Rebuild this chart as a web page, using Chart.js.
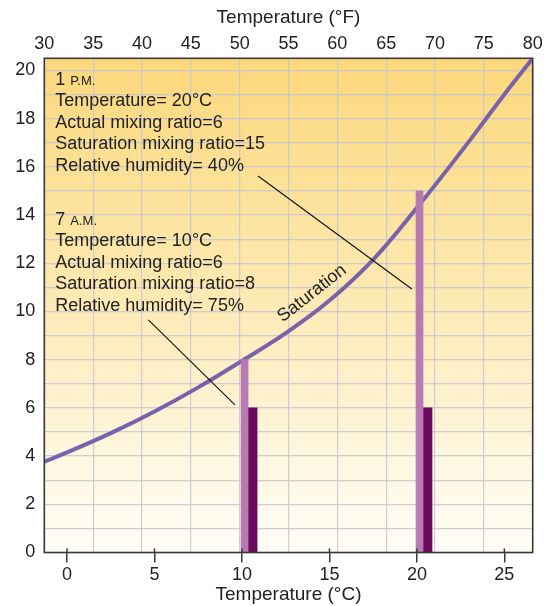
<!DOCTYPE html>
<html>
<head>
<meta charset="utf-8">
<script src="https://cdn.jsdelivr.net/npm/chart.js@4.4.0/dist/chart.umd.min.js"></script>
<style>
  html, body { margin: 0; padding: 0; background: #fff; }
  #wrap { width: 556px; height: 606px; }
</style>
</head>
<body>
<div id="wrap"><canvas id="chart" width="556" height="606"></canvas></div>
<script>
// saturation mixing ratio curve (°C -> g/kg)
const satTemps  = [-1.3, 0, 2.5, 5, 7.5, 10, 12.5, 15, 17.5, 20, 22.5, 25, 26.62];
const satValues = [3.77, 4.15, 4.95, 5.85, 6.85, 7.95, 9.1, 10.45, 12.15, 14.3, 16.6, 19.0, 20.5];

// the two observations (7 A.M. and 1 P.M.)
const obsTemps     = [10, 20];
const satMixing    = [8, 15];
const actualMixing = [6, 6];

// tick labels
const celsiusTicks    = [0, 5, 10, 15, 20, 25];
const fahrenheitTicks = [30, 35, 40, 45, 50, 55, 60, 65, 70, 75, 80];
const mixingTicks     = [0, 2, 4, 6, 8, 10, 12, 14, 16, 18, 20];

const FONT = '"Liberation Sans", Arial, Helvetica, sans-serif';
const INK = '#222';
const GRID = 'rgba(196, 198, 212, 0.85)';
const FRAME = '#3a3a3a';

const X_MIN = -1.3, X_MAX = 26.62;
const BAR_SHIFT = 0.35; // bars sit just right of their temperature tick

const paperPlugin = {
    id: 'paper',
    beforeDraw(chart) {
        const { ctx, chartArea: a } = chart;
        const g = ctx.createLinearGradient(0, a.top, 0, a.bottom);
        g.addColorStop(0, '#FCD87C');
        g.addColorStop(0.45, '#FDE8AE');
        g.addColorStop(0.8, '#FEF6DE');
        g.addColorStop(1, '#FFFDF7');
        ctx.save();
        ctx.fillStyle = g;
        ctx.fillRect(a.left, a.top, a.width, a.height);
        ctx.restore();
    },
    afterDraw(chart) {
        const { ctx, chartArea: a } = chart;
        const xs = chart.scales.x, ys = chart.scales.y;
        ctx.save();

        // frame
        ctx.strokeStyle = FRAME;
        ctx.lineWidth = 1.6;
        ctx.strokeRect(a.left, a.top, a.width, a.height);

        // bottom ticks poke a little into the plot
        ctx.lineWidth = 1.5;
        celsiusTicks.forEach(v => {
            const px = xs.getPixelForValue(v);
            ctx.beginPath();
            ctx.moveTo(px, a.bottom - 4);
            ctx.lineTo(px, a.bottom);
            ctx.stroke();
        });

        // leader lines (data units)
        ctx.strokeStyle = '#111';
        ctx.lineWidth = 1.1;
        const leaders = [
            [[10.92, 15.62], [19.71, 10.93]],
            [[4.65, 9.65], [9.6, 6.12]]
        ];
        leaders.forEach(l => {
            ctx.beginPath();
            ctx.moveTo(xs.getPixelForValue(l[0][0]), ys.getPixelForValue(l[0][1]));
            ctx.lineTo(xs.getPixelForValue(l[1][0]), ys.getPixelForValue(l[1][1]));
            ctx.stroke();
        });

        // text blocks
        ctx.fillStyle = INK;
        ctx.textBaseline = 'alphabetic';
        ctx.textAlign = 'left';
        const tx = a.left + 11;
        const step = 21.4;
        const blocks = [
            { top: 85, num: '1', suf: 'P.M.', temp: obsTemps[1], sat: satMixing[1], act: actualMixing[1] },
            { top: 225, num: '7', suf: 'A.M.', temp: obsTemps[0], sat: satMixing[0], act: actualMixing[0] }
        ];
        blocks.forEach(b => {
            ctx.font = '18px ' + FONT;
            ctx.fillText(b.num + ' ', tx, b.top);
            const w = ctx.measureText(b.num + ' ').width;
            ctx.font = '13px ' + FONT;
            ctx.fillText(b.suf, tx + w, b.top);
            ctx.font = '18px ' + FONT;
            const rh = Math.round(b.act / b.sat * 100);
            const lines = [
                'Temperature= ' + b.temp + '\u00B0C',
                'Actual mixing ratio=' + b.act,
                'Saturation mixing ratio=' + b.sat,
                'Relative humidity= ' + rh + '%'
            ];
            lines.forEach((t, i) => ctx.fillText(t, tx, b.top + step * (i + 1)));
        });

        // curve label
        ctx.translate(xs.getPixelForValue(14.0), ys.getPixelForValue(10.75));
        ctx.rotate(-38 * Math.PI / 180);
        ctx.textAlign = 'center';
        ctx.textBaseline = 'middle';
        ctx.font = '18px ' + FONT;
        ctx.fillText('Saturation', 0, 0);
        ctx.restore();
    }
};

const tickFont = { size: 18, family: FONT };
const titleFont = { size: 19, family: FONT };

const ctx = document.getElementById('chart').getContext('2d');
new Chart(ctx, {
    type: 'bar',
    data: {
        datasets: [
            {
                type: 'line',
                label: 'Saturation',
                data: satTemps.map((t, i) => ({ x: t, y: satValues[i] })),
                xAxisID: 'x',
                borderColor: '#7A62AA',
                borderWidth: 4,
                pointRadius: 0,
                tension: 0.4,
                order: 2
            },
            {
                label: 'Saturation mixing ratio',
                data: obsTemps.map((t, i) => ({ x: t, y: satMixing[i] })),
                xAxisID: 'xb',
                backgroundColor: '#B77AB1',
                barThickness: 7,
                order: 1
            },
            {
                label: 'Actual mixing ratio',
                data: obsTemps.map((t, i) => ({ x: t, y: actualMixing[i] })),
                xAxisID: 'xb',
                backgroundColor: '#6B0A5C',
                barThickness: 9,
                order: 1
            }
        ]
    },
    options: {
        responsive: false,
        animation: false,
        layout: { padding: { top: 0, right: 23.3, bottom: 0, left: 0 } },
        plugins: {
            legend: { display: false },
            tooltip: { enabled: false }
        },
        scales: {
            x: {
                type: 'linear',
                position: 'bottom',
                offset: false,
                min: X_MIN,
                max: X_MAX,
                afterBuildTicks: s => { s.ticks = celsiusTicks.map(v => ({ value: v })); },
                afterFit: s => { s.height = 53.5; },
                grid: { offset: false, drawOnChartArea: false, drawTicks: true, tickLength: 10, color: FRAME, lineWidth: 1.5 },
                border: { display: false },
                ticks: { color: INK, font: tickFont, padding: 2, maxRotation: 0 },
                title: { display: true, text: 'Temperature (\u00B0C)', color: INK, font: titleFont, padding: { top: 0, bottom: 0 } }
            },
            xb: {
                type: 'linear',
                display: false,
                offset: false,
                grid: { offset: false },
                min: X_MIN - BAR_SHIFT,
                max: X_MAX - BAR_SHIFT
            },
            x2: {
                type: 'linear',
                position: 'top',
                offset: false,
                min: 30,
                max: 80,
                afterBuildTicks: s => { s.ticks = fahrenheitTicks.map(v => ({ value: v })); },
                afterFit: s => { s.height = 58.3; },
                grid: { offset: false, drawTicks: false, color: GRID, lineWidth: 1.2 },
                border: { display: false },
                ticks: { color: INK, font: tickFont, padding: 3.5, maxRotation: 0 },
                title: { display: true, text: 'Temperature (\u00B0F)', color: INK, font: titleFont, padding: { top: 6.5, bottom: 0 } }
            },
            y: {
                type: 'linear',
                min: 0,
                max: 20.5,
                afterFit: s => { s.width = 44.3; },
                grid: { drawTicks: false, color: GRID, lineWidth: 1.2 },
                border: { display: false },
                ticks: {
                    stepSize: 1,
                    includeBounds: false,
                    color: INK,
                    font: tickFont,
                    padding: 9,
                    callback: v => mixingTicks.includes(v) ? String(v) : ''
                }
            }
        }
    },
    plugins: [paperPlugin]
});
</script>
</body>
</html>
